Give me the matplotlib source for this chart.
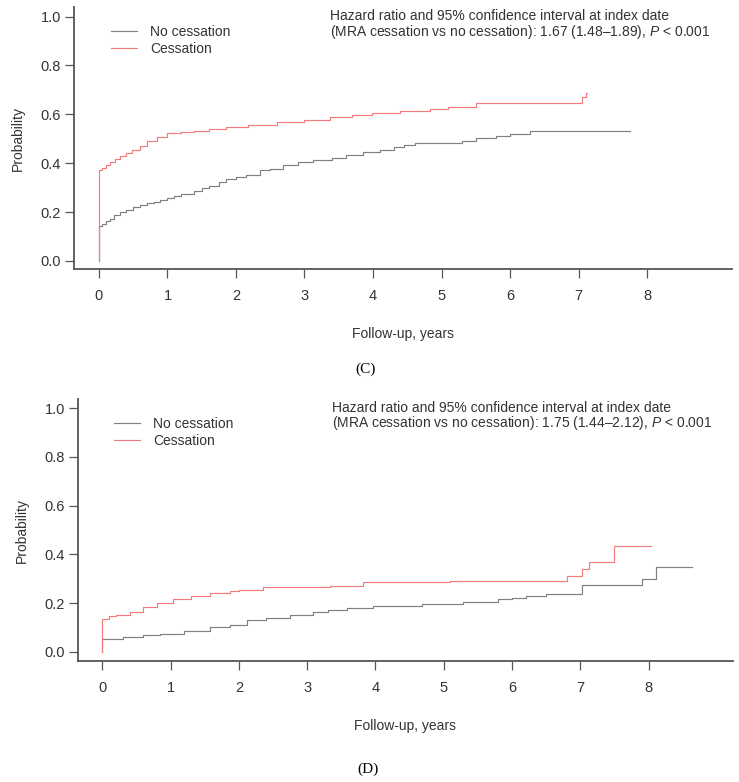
import matplotlib
matplotlib.use('Agg')
import numpy as np
from matplotlib import pyplot as plt

plt.rcParams['font.family'] = ['Liberation Sans', 'DejaVu Sans']
plt.rcParams['mathtext.fontset'] = 'custom'
plt.rcParams['mathtext.rm'] = 'Liberation Sans'
plt.rcParams['mathtext.it'] = 'Liberation Sans:italic'

# panel C: cumulative probability
c_none_t = [0, 0, 0.05, 0.1, 0.16, 0.22, 0.31, 0.4, 0.5, 0.6, 0.7, 0.8, 0.89, 1.0, 1.1, 1.2,
            1.38, 1.5, 1.6, 1.75, 1.86, 2.0, 2.15, 2.35, 2.5, 2.69, 2.9, 3.13, 3.4, 3.6,
            3.86, 4.1, 4.3, 4.45, 4.61, 5.3, 5.51, 5.8, 6.0, 6.29, 7.75]
c_none_p = [0, 0.142, 0.152, 0.163, 0.173, 0.186, 0.200, 0.210, 0.221, 0.229, 0.236, 0.242,
            0.248, 0.256, 0.264, 0.272, 0.285, 0.297, 0.308, 0.322, 0.334, 0.342, 0.352,
            0.371, 0.378, 0.391, 0.404, 0.415, 0.422, 0.432, 0.446, 0.455, 0.465, 0.475,
            0.483, 0.490, 0.503, 0.512, 0.520, 0.530, 0.530]
c_stop_t = [0, 0, 0.05, 0.1, 0.16, 0.23, 0.31, 0.4, 0.48, 0.6, 0.7, 0.85, 0.99, 1.2, 1.38,
            1.6, 1.86, 2.18, 2.6, 3.0, 3.37, 3.7, 3.98, 4.4, 4.83, 5.1, 5.51, 7.05, 7.11, 7.12]
c_stop_p = [0, 0.371, 0.382, 0.393, 0.405, 0.418, 0.430, 0.442, 0.453, 0.472, 0.490, 0.507,
            0.524, 0.529, 0.532, 0.538, 0.547, 0.558, 0.567, 0.577, 0.589, 0.598, 0.607,
            0.615, 0.623, 0.630, 0.648, 0.672, 0.689, 0.689]

# panel D
d_none_t = [0, 0, 0.3, 0.6, 0.85, 1.2, 1.58, 1.87, 2.12, 2.4, 2.75, 3.08, 3.3, 3.58, 3.96,
            4.68, 5.28, 5.8, 6.0, 6.2, 6.5, 7.03, 7.9, 8.1, 8.63]
d_none_p = [0, 0.051, 0.060, 0.068, 0.075, 0.087, 0.100, 0.112, 0.130, 0.138, 0.149, 0.164,
            0.170, 0.178, 0.189, 0.196, 0.206, 0.215, 0.222, 0.229, 0.238, 0.274, 0.298,
            0.348, 0.348]
d_stop_t = [0, 0, 0.1, 0.2, 0.4, 0.6, 0.8, 1.04, 1.3, 1.58, 1.87, 2.0, 2.35, 3.33, 3.82,
            5.09, 6.8, 7.03, 7.12, 7.49, 8.04]
d_stop_p = [0, 0.134, 0.145, 0.152, 0.165, 0.185, 0.200, 0.215, 0.228, 0.242, 0.248, 0.252,
            0.264, 0.270, 0.285, 0.290, 0.311, 0.339, 0.370, 0.434, 0.434]

labels = ['No cessation', 'Cessation']
hr_c = '1.67 (1.48\u20131.89)'
hr_d = '1.75 (1.44\u20132.12)'
x_ticks = list(range(9))
y_ticks = [0.0, 0.2, 0.4, 0.6, 0.8, 1.0]

grey = '#808080'
red = '#F47C7C'
txt = '#333333'


def panel(ax, none_t, none_p, stop_t, stop_p, hr, xlim, ylim):
    ax.step(none_t, none_p, where='post', color=grey, lw=0.85, label=labels[0])
    ax.step(stop_t, stop_p, where='post', color=red, lw=0.85, label=labels[1])
    ax.set_xlim(*xlim)
    ax.set_ylim(*ylim)
    for s in ['top', 'right']:
        ax.spines[s].set_visible(False)
    for s in ['left', 'bottom']:
        ax.spines[s].set_color('#555555')
        ax.spines[s].set_linewidth(1.3)
    ax.set_xticks(x_ticks)
    ax.set_yticks(y_ticks)
    ax.set_yticklabels(['%.1f' % v for v in y_ticks])
    ax.tick_params(axis='both', direction='out', length=6.5, width=0.9, color='#555555',
                   labelcolor=txt, labelsize=10.5)
    ax.tick_params(axis='x', pad=8)
    ax.tick_params(axis='y', pad=3)
    ax.set_xlabel('Follow-up, years', fontsize=10, color=txt, labelpad=17)
    ax.set_ylabel('Probability', fontsize=10, color=txt, labelpad=11)
    ax.legend(frameon=False, loc='upper left', bbox_to_anchor=(0.17, 0.965),
              bbox_transform=ax.transData, borderpad=0, borderaxespad=0,
              handlelength=1.9, handletextpad=0.95, labelspacing=0.2,
              fontsize=10, labelcolor=txt)
    ax.text(3.37, 1.03,
            'Hazard ratio and 95% confidence interval at index date\n'
            '(MRA cessation vs no cessation): ' + hr + ', $P$ < 0.001',
            fontsize=10, color=txt, va='top', ha='left', linespacing=0.95)


fig = plt.figure(figsize=(7.39, 7.82), dpi=100)

ax1 = fig.add_axes([0.1001, 0.656, 0.8904, 0.335])
panel(ax1, c_none_t, c_none_p, c_stop_t, c_stop_p, hr_c, (-0.365, 9.24), (-0.033, 1.039))

ax2 = fig.add_axes([0.1055, 0.1547, 0.886, 0.335])
panel(ax2, d_none_t, d_none_p, d_stop_t, d_stop_p, hr_d, (-0.356, 9.23), (-0.038, 1.038))

fig.text(366 / 739, 1 - 369 / 782, '(C)', family='Liberation Serif', fontsize=11,
         ha='center', va='center', color='black')
fig.text(368 / 739, 1 - 769 / 782, '(D)', family='Liberation Serif', fontsize=11,
         ha='center', va='center', color='black')

fig.savefig('out.png', dpi=100)
